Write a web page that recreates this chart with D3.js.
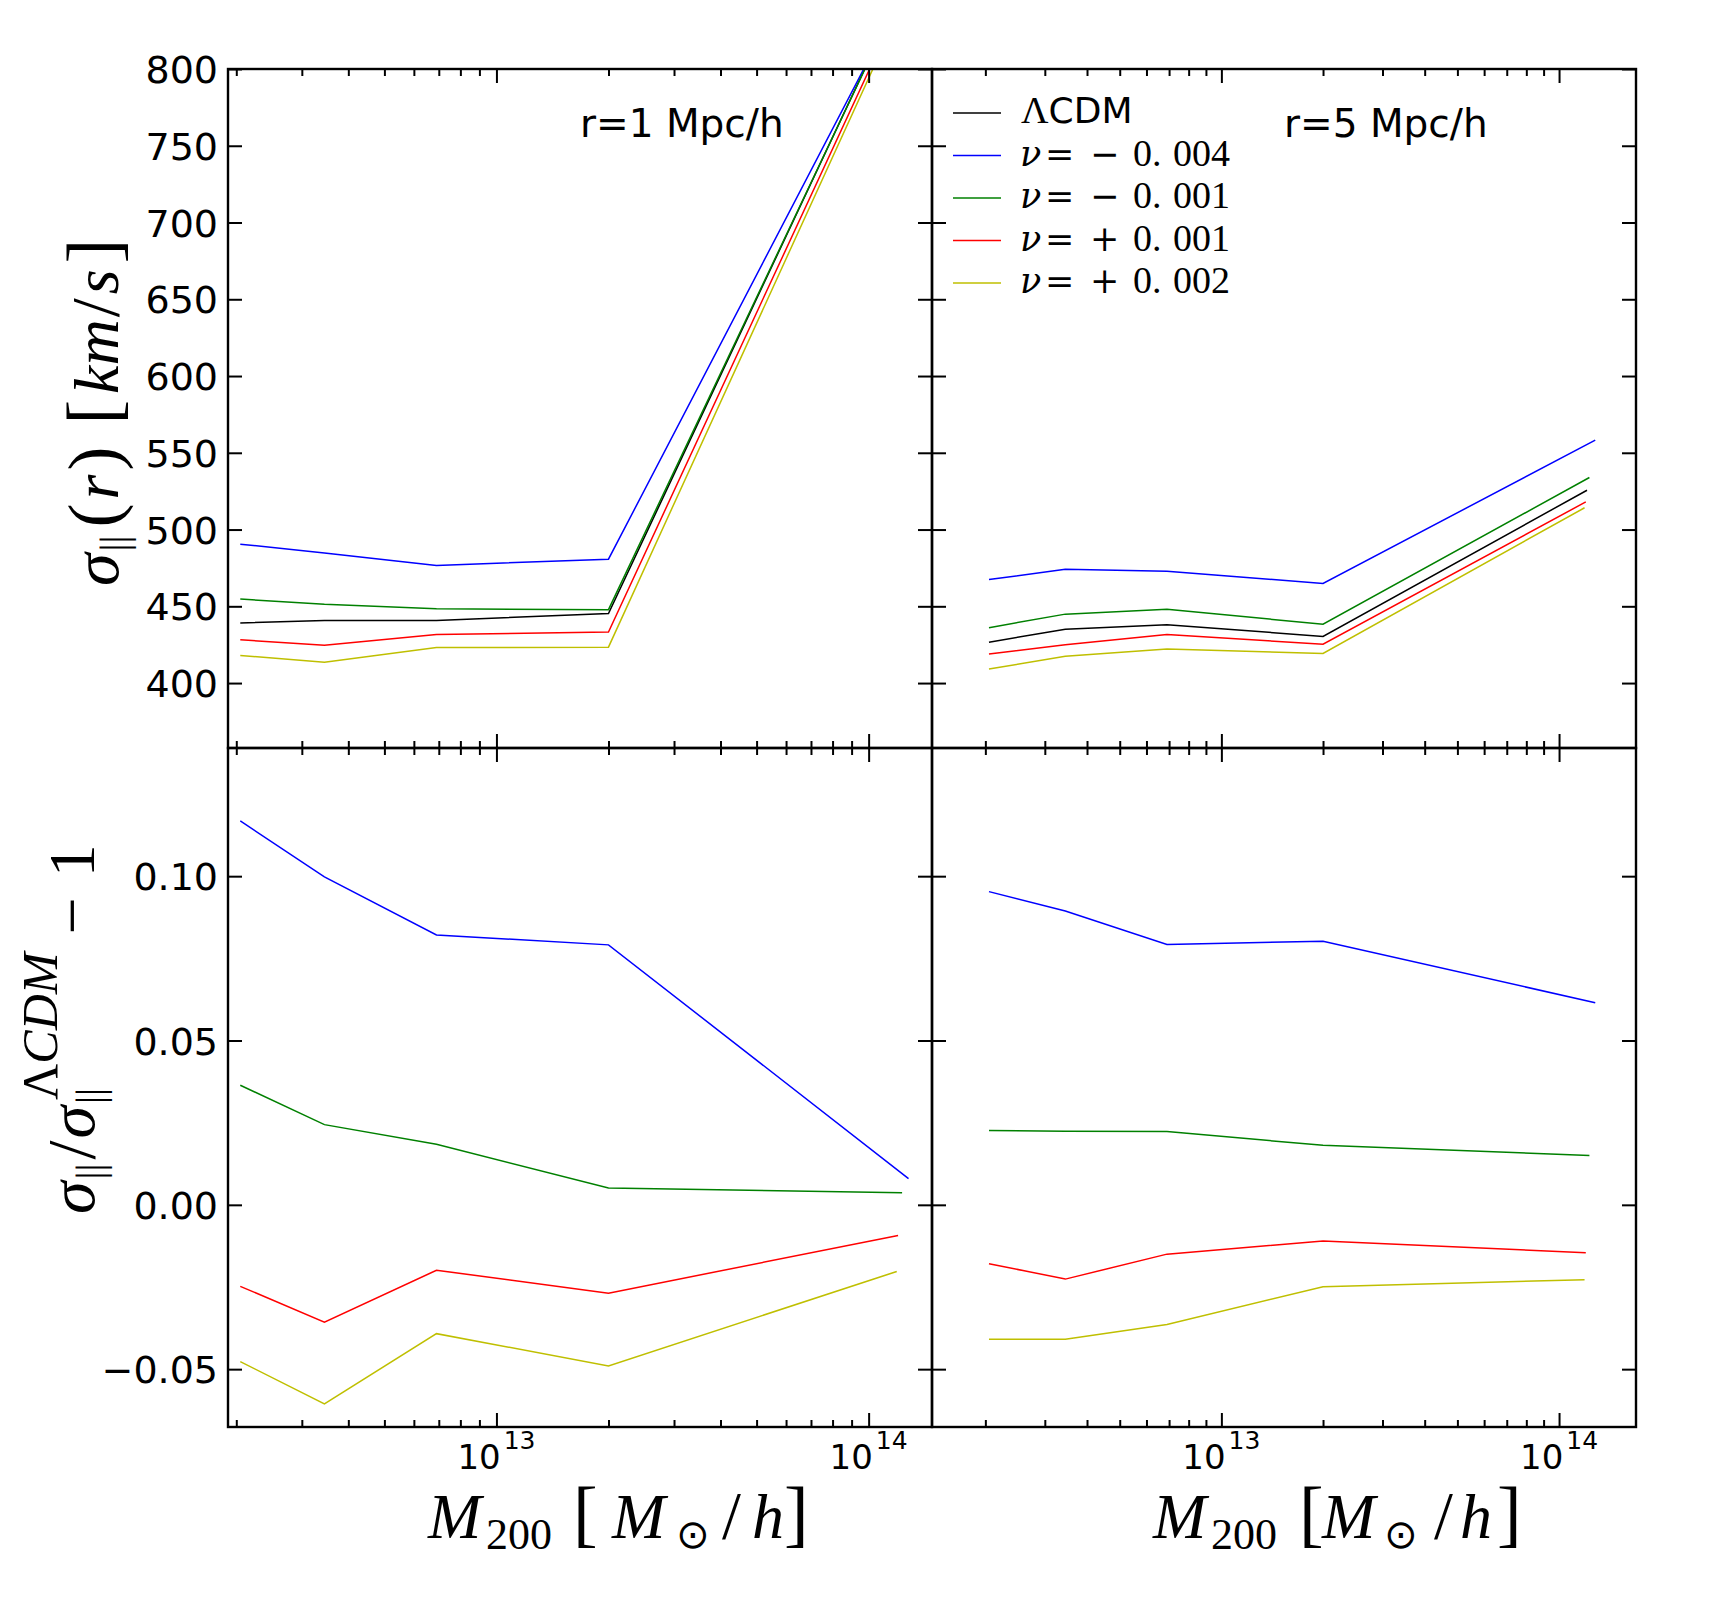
<!DOCTYPE html>
<html>
<head>
<meta charset="utf-8">
<script src="https://cdn.jsdelivr.net/npm/d3@7"></script>
<style>
  body { margin: 0; background: #fff; }
</style>
</head>
<body>
<svg width="1717" height="1597"></svg>
<script>
// ---- data ----
const modelColors = ['#000000', '#0000ff', '#008000', '#ff0000', '#bfbf00'];
const modelSigns = ['', '−', '−', '+', '+'];
const modelNu = ['', '0.004', '0.001', '0.001', '0.002'];

// halo mass of each bin (M_sun/h), last bin differs a bit per model
const massLcdm = [2.05e12, 3.45e12, 6.9e12, 2.0e13, 1.21e14];
const massNeg004 = [2.05e12, 3.45e12, 6.9e12, 2.0e13, 1.28e14];
const massNeg001 = [2.05e12, 3.45e12, 6.9e12, 2.0e13, 1.23e14];
const massPos001 = [2.05e12, 3.45e12, 6.9e12, 2.0e13, 1.20e14];
const massPos002 = [2.05e12, 3.45e12, 6.9e12, 2.0e13, 1.19e14];

// sigma_par at r = 1 Mpc/h  (km/s)
const sigmaR1Lcdm = [439.2, 440.8, 440.8, 445.3, 848];
const sigmaR1Neg004 = [490.5, 484.8, 476.6, 480.7, 856];
const sigmaR1Neg001 = [454.7, 451.3, 448.4, 447.8, 851];
const sigmaR1Pos001 = [428.2, 424.7, 431.6, 433.2, 840];
const sigmaR1Pos002 = [418.0, 413.6, 423.1, 423.4, 834];

// sigma_par at r = 5 Mpc/h  (km/s)
const sigmaR5Lcdm = [426.6, 435.1, 438.0, 430.4, 525.6];
const sigmaR5Neg004 = [467.4, 474.1, 472.8, 464.9, 558.2];
const sigmaR5Neg001 = [436.1, 444.9, 448.1, 438.3, 533.9];
const sigmaR5Pos001 = [419.0, 425.0, 431.6, 425.3, 518.0];
const sigmaR5Pos002 = [409.2, 417.4, 422.2, 419.3, 514.2];

// sigma / sigma_LCDM - 1
const ratioR1Neg004 = [0.1168, 0.0998, 0.0821, 0.0791, 0.0080];
const ratioR1Neg001 = [0.0364, 0.0244, 0.0184, 0.0051, 0.0037];
const ratioR1Pos001 = [-0.0248, -0.0357, -0.0199, -0.0269, -0.0093];
const ratioR1Pos002 = [-0.0477, -0.0606, -0.0392, -0.0490, -0.0203];

const ratioR5Neg004 = [0.0953, 0.0894, 0.0792, 0.0802, 0.0615];
const ratioR5Neg001 = [0.0226, 0.0224, 0.0223, 0.0181, 0.0150];
const ratioR5Pos001 = [-0.0179, -0.0226, -0.0150, -0.0110, -0.0146];
const ratioR5Pos002 = [-0.0409, -0.0409, -0.0364, -0.0249, -0.0228];

// axis limits and ticks
const massLimR1 = [1.9e12, 1.48e14];
const massLimR5 = [1.39e12, 1.69e14];
const sigmaLim = [357.7, 800];
const ratioLim = [-0.0676, 0.139];
const sigmaTicks = [400, 450, 500, 550, 600, 650, 700, 750, 800];
const ratioTicks = [-0.05, 0.00, 0.05, 0.10];

// ---- layout ----
const svg = d3.select('svg');
const colX = [228, 932];
const rowY = [69, 748];
const pw = 704, ph = 679;
const sans = "'DejaVu Sans', sans-serif";
const serif = "'Liberation Serif', 'DejaVu Serif', serif";
const dvSerif = "'DejaVu Serif', serif";

const masses = [massLcdm, massNeg004, massNeg001, massPos001, massPos002];

const panels = [
    { c: 0, r: 0, xlim: massLimR1, ylim: sigmaLim, ticks: sigmaTicks, fmt: d3.format('d'),
      series: [sigmaR1Lcdm, sigmaR1Neg004, sigmaR1Neg001, sigmaR1Pos001, sigmaR1Pos002], note: 'r=1 Mpc/h' },
    { c: 1, r: 0, xlim: massLimR5, ylim: sigmaLim, ticks: sigmaTicks, fmt: d3.format('d'),
      series: [sigmaR5Lcdm, sigmaR5Neg004, sigmaR5Neg001, sigmaR5Pos001, sigmaR5Pos002], note: 'r=5 Mpc/h', legend: true },
    { c: 0, r: 1, xlim: massLimR1, ylim: ratioLim, ticks: ratioTicks, fmt: d3.format('.2f'),
      series: [null, ratioR1Neg004, ratioR1Neg001, ratioR1Pos001, ratioR1Pos002] },
    { c: 1, r: 1, xlim: massLimR5, ylim: ratioLim, ticks: ratioTicks, fmt: d3.format('.2f'),
      series: [null, ratioR5Neg004, ratioR5Neg001, ratioR5Pos001, ratioR5Pos002] }
];

const styleAxis = sel => {
    sel.select('.domain').remove();
    sel.selectAll('line').attr('stroke', '#000').attr('stroke-width', 2);
};

panels.forEach((p, i) => {
    const g = svg.append('g').attr('transform', `translate(${colX[p.c]},${rowY[p.r]})`);
    const x = d3.scaleLog().domain(p.xlim).range([0, pw]);
    const y = d3.scaleLinear().domain(p.ylim).range([ph, 0]);

    g.append('clipPath').attr('id', 'clip' + i)
        .append('rect').attr('width', pw).attr('height', ph);

    const line = d3.line().x(d => x(d[0])).y(d => y(d[1]));
    p.series.forEach((vals, m) => {
        if (!vals) return;
        g.append('path')
            .attr('clip-path', `url(#clip${i})`)
            .attr('fill', 'none')
            .attr('stroke', modelColors[m])
            .attr('stroke-width', 1.5)
            .attr('d', line(d3.zip(masses[m], vals)));
    });

    // log ticks: decades are major, the rest minor
    const all = x.ticks();
    const major = all.filter(t => Math.abs(Math.log10(t) - Math.round(Math.log10(t))) < 1e-6);
    const minor = all.filter(t => !major.includes(t));

    [[major, 14], [minor, 7]].forEach(([vals, len]) => {
        g.append('g').attr('transform', `translate(0,${ph})`)
            .call(d3.axisBottom(x).tickValues(vals).tickSizeInner(-len).tickSizeOuter(0).tickFormat(''))
            .call(styleAxis);
        g.append('g')
            .call(d3.axisTop(x).tickValues(vals).tickSizeInner(-len).tickSizeOuter(0).tickFormat(''))
            .call(styleAxis);
    });

    const yl = g.append('g')
        .call(d3.axisLeft(y).tickValues(p.ticks).tickSizeInner(-14).tickSizeOuter(0).tickPadding(10)
            .tickFormat(p.c === 0 ? p.fmt : ''))
        .call(styleAxis);
    yl.selectAll('text').attr('font-family', sans).attr('font-size', 38).attr('fill', '#000')
        .attr('dy', '0.36em');
    g.append('g').attr('transform', `translate(${pw},0)`)
        .call(d3.axisRight(y).tickValues(p.ticks).tickSizeInner(-14).tickSizeOuter(0).tickFormat(''))
        .call(styleAxis);

    // decade labels on the bottom row
    if (p.r === 1) {
        major.forEach(t => {
            const tx = g.append('text')
                .attr('x', x(t)).attr('y', ph + 42)
                .attr('text-anchor', 'middle')
                .attr('font-family', sans).attr('font-size', 34);
            tx.append('tspan').text('10');
            tx.append('tspan').text(Math.round(Math.log10(t)))
                .attr('font-size', 25).attr('dx', 3).attr('dy', -20);
        });
    }

    g.append('rect').attr('width', pw).attr('height', ph)
        .attr('fill', 'none').attr('stroke', '#000').attr('stroke-width', 2.4);

    if (p.note) {
        g.append('text').attr('x', pw * 0.5).attr('y', 68)
            .attr('font-family', sans).attr('font-size', 39).text(p.note);
    }

    if (p.legend) {
        const lg = g.append('g').attr('transform', 'translate(21,44)');
        modelColors.forEach((col, m) => {
            const row = lg.append('g').attr('transform', `translate(0,${m * 42.5})`);
            row.append('line').attr('x1', 0).attr('x2', 48)
                .attr('stroke', col).attr('stroke-width', 1.5);
            const piece = (px, txt, size, fam, ital) => row.append('text')
                .attr('x', px).attr('y', 10)
                .attr('font-family', fam || serif).attr('font-size', size)
                .attr('font-style', ital ? 'italic' : 'normal').text(txt);
            if (m === 0) {
                const t = piece(68, 'Λ', 38);
                t.append('tspan').text('CDM').attr('font-family', sans).attr('font-size', 36);
            } else {
                piece(67, 'ν', 35, dvSerif, true);
                piece(92, '=', 35, dvSerif);
                piece(137, modelSigns[m], 35, dvSerif);
                piece(180, modelNu[m].slice(0, 2), 38);
                piece(220, modelNu[m].slice(2), 38);
            }
        });
    }
});

// ---- axis titles (math style) ----
const mathText = (t, parts) => parts.forEach(q => {
    const s = t.append('tspan').text(q.t)
        .attr('font-style', q.it ? 'italic' : 'normal')
        .attr('font-size', q.s || 62)
        .attr('font-family', q.f || serif)
        .attr('dx', q.dx || 0).attr('dy', q.dy || 0);
    if (q.x !== undefined) s.attr('x', q.x);
});

[[428, [58, 145, 184, 248, 294, 324, 356]], [1153, [58, 146, 169, 231, 281, 307, 344]]].forEach(([lx, o]) => {
    const t = svg.append('text').attr('y', 1538).attr('fill', '#000');
    mathText(t, [
        { t: 'M', it: true, x: lx, s: 64 },
        { t: '200', s: 44, x: lx + o[0], dy: 11 },
        { t: '[', s: 74, x: lx + o[1], dy: -11 },
        { t: 'M', it: true, s: 64, x: lx + o[2] },
        { t: '⊙', s: 40, f: "'DejaVu Sans'", x: lx + o[3], dy: 10 },
        { t: '/', s: 68, x: lx + o[4], dy: -10 },
        { t: 'h', it: true, s: 64, x: lx + o[5] },
        { t: ']', s: 74, x: lx + o[6] }
    ]);
});

const yt1 = svg.append('text').attr('transform', 'translate(118,586) rotate(-90)');
mathText(yt1, [
    { t: 'σ', it: true, s: 66 },
    { t: '||', s: 40, dx: 2, dy: 9 },
    { t: '(', s: 72, dx: 8, dy: -9 },
    { t: 'r', it: true, s: 64, dx: 4 },
    { t: ')', s: 72, dx: 4 },
    { t: '[', s: 74, dx: 22 },
    { t: 'km', it: true, s: 64, dx: 6 },
    { t: '/', s: 68, dx: 2 },
    { t: 's', it: true, s: 64, dx: 4 },
    { t: ']', s: 74, dx: 6 }
]);

const yt2 = svg.append('text').attr('transform', 'translate(94,1214) rotate(-90)');
mathText(yt2, [
    { t: 'σ', it: true, s: 66 },
    { t: '||', s: 40, dx: 2, dy: 9 },
    { t: '/', s: 68, dx: 4, dy: -9 },
    { t: 'σ', it: true, s: 66, dx: 2 },
    { t: '||', s: 40, dx: 2, dy: 9 },
    { t: 'Λ', s: 50, dx: -12, dy: -46 },
    { t: 'CDM', it: true, s: 50 },
    { t: '−', s: 66, dx: 18, dy: 37 },
    { t: '1', s: 66, dx: 20 }
]);
</script>
</body>
</html>
